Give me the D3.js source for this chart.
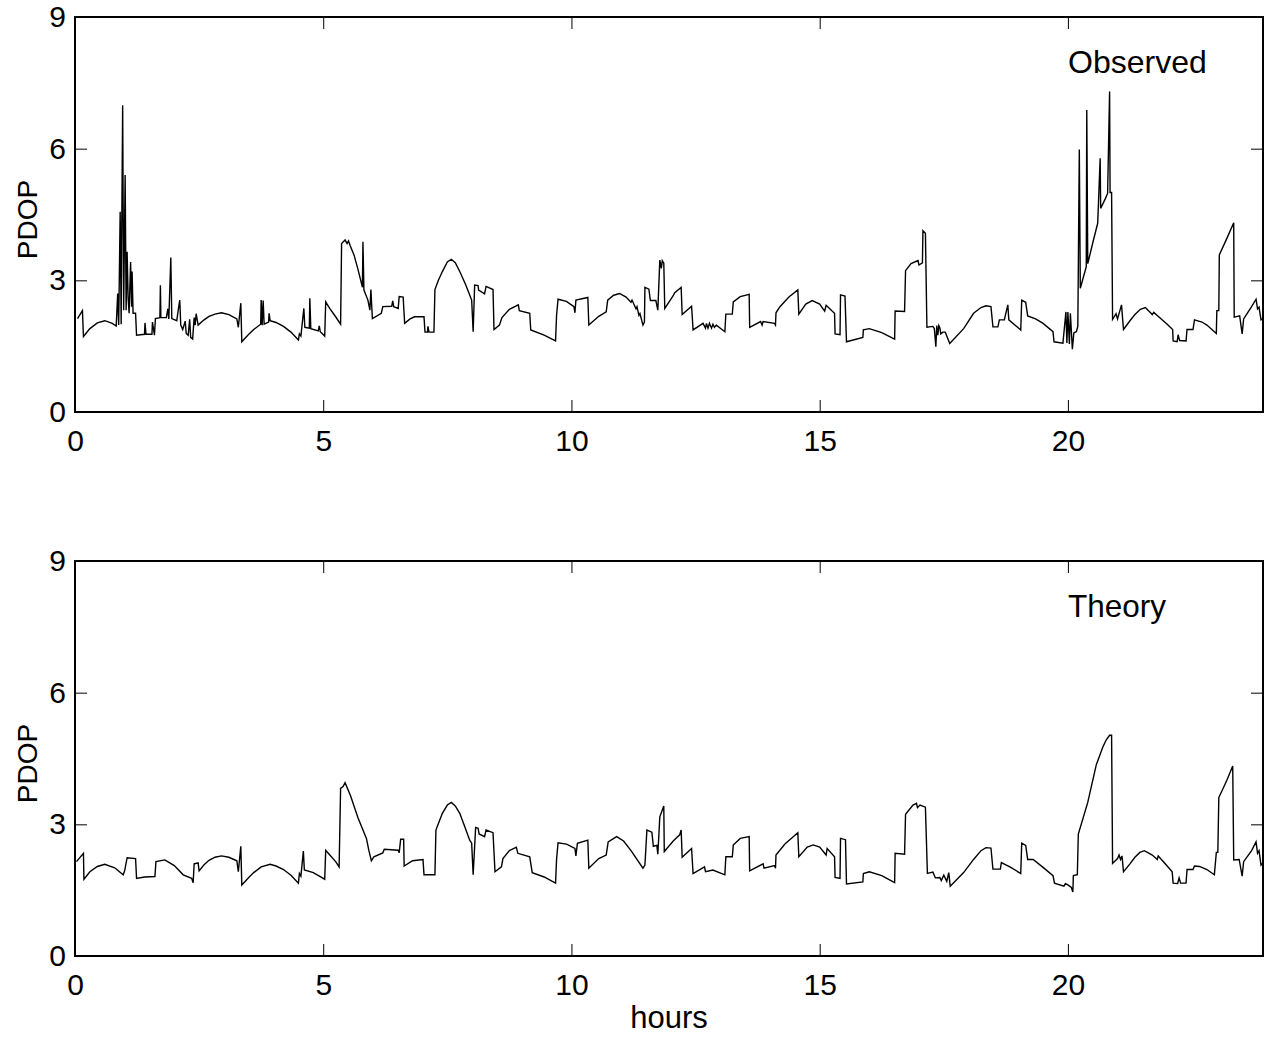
<!DOCTYPE html>
<html><head><meta charset="utf-8">
<script src="https://cdn.jsdelivr.net/npm/d3@7"></script>
<style>body{margin:0;background:#fff}svg{display:block}</style>
</head><body><svg id="c" width="1270" height="1038"></svg>
<script>
// ---- data ----
const xTicks = [0, 5, 10, 15, 20];
const yTicks = [0, 3, 6, 9];
const hoursMax = 23.93;
const pdopMax = 9;
const panelLabels = ["Observed", "Theory"];
const yLabel = "PDOP";
const xLabel = "hours";

// Observed PDOP: [hour, pdop]
const observed = [[0.05,2.13],[0.15,2.31],[0.17,1.72],[0.3,1.90],[0.45,2.03],[0.6,2.08],[0.75,2.02],[0.83,1.96],[0.86,2.70],[0.88,1.98],[0.91,4.56],[0.93,2.00],[0.94,3.92],[0.96,6.99],[0.98,2.32],[1.01,5.40],[1.03,2.32],[1.05,3.65],[1.07,2.6],[1.09,2.25],[1.12,3.42],[1.14,2.4],[1.15,3.2],[1.17,2.25],[1.22,2.25],[1.24,1.75],[1.40,1.77],[1.41,2.03],[1.43,1.77],[1.55,1.77],[1.56,2.05],[1.60,1.75],[1.62,2.13],[1.71,2.15],[1.72,2.89],[1.73,2.15],[1.84,2.15],[1.87,2.35],[1.89,2.12],[1.93,3.52],[1.95,2.13],[2.05,2.08],[2.08,2.33],[2.11,2.55],[2.13,1.98],[2.17,1.88],[2.22,2.07],[2.24,1.79],[2.28,1.75],[2.31,2.11],[2.33,1.70],[2.37,1.66],[2.40,2.15],[2.42,1.98],[2.44,2.24],[2.48,1.98],[2.6,2.10],[2.7,2.18],[2.82,2.23],[2.95,2.26],[3.1,2.22],[3.26,2.12],[3.29,1.93],[3.34,2.48],[3.36,1.60],[3.5,1.77],[3.6,1.88],[3.74,2.0],[3.75,2.55],[3.77,1.98],[3.79,2.54],[3.81,2.0],[3.90,2.05],[3.91,2.25],[3.93,2.08],[4.05,2.04],[4.2,1.95],[4.35,1.82],[4.50,1.64],[4.52,1.78],[4.55,1.73],[4.61,2.36],[4.63,1.93],[4.72,1.91],[4.73,2.59],[4.75,1.90],[4.90,1.85],[4.92,1.96],[4.94,1.83],[5.03,1.73],[5.05,2.51],[5.13,2.36],[5.25,2.17],[5.35,2.0],[5.37,3.84],[5.44,3.92],[5.48,3.84],[5.51,3.90],[5.54,3.80],[5.62,3.58],[5.70,3.25],[5.79,2.84],[5.80,3.88],[5.82,2.78],[5.90,2.55],[5.94,2.32],[5.96,2.79],[5.99,2.13],[6.17,2.25],[6.20,2.40],[6.38,2.41],[6.40,2.53],[6.42,2.40],[6.51,2.36],[6.53,2.63],[6.61,2.62],[6.64,2.02],[6.75,2.12],[6.84,2.17],[7.03,2.17],[7.05,1.82],[7.10,1.82],[7.11,1.95],[7.13,1.82],[7.23,1.82],[7.25,2.79],[7.32,3.0],[7.4,3.2],[7.5,3.42],[7.58,3.48],[7.66,3.40],[7.75,3.2],[7.87,2.9],[7.99,2.55],[8.02,1.83],[8.05,2.89],[8.12,2.88],[8.13,2.78],[8.25,2.69],[8.28,2.86],[8.42,2.79],[8.44,1.88],[8.55,1.98],[8.60,2.15],[8.75,2.34],[8.93,2.44],[8.95,2.31],[9.16,2.25],[9.18,1.87],[9.45,1.75],[9.68,1.62],[9.70,2.20],[9.73,2.57],[9.9,2.52],[10.05,2.40],[10.07,2.26],[10.09,2.55],[10.33,2.61],[10.35,1.98],[10.55,2.18],[10.70,2.28],[10.73,2.55],[10.85,2.66],[10.97,2.70],[11.1,2.62],[11.2,2.50],[11.22,2.55],[11.3,2.35],[11.32,2.40],[11.36,2.2],[11.38,2.24],[11.44,1.98],[11.47,2.05],[11.48,2.84],[11.56,2.80],[11.59,2.54],[11.70,2.54],[11.74,2.32],[11.78,3.46],[11.81,3.27],[11.83,3.45],[11.86,3.39],[11.88,2.36],[12.05,2.65],[12.08,2.72],[12.21,2.84],[12.23,2.22],[12.42,2.41],[12.45,1.87],[12.65,2.02],[12.70,1.91],[12.72,2.02],[12.75,1.91],[12.78,2.02],[12.82,1.91],[12.85,2.00],[12.88,1.93],[12.92,1.98],[13.09,1.83],[13.11,2.23],[13.24,2.23],[13.26,2.51],[13.4,2.63],[13.58,2.68],[13.59,1.93],[13.81,2.06],[13.84,1.98],[13.86,2.06],[14.09,2.02],[14.11,1.98],[14.12,2.26],[14.2,2.40],[14.38,2.62],[14.56,2.78],[14.58,2.23],[14.72,2.46],[14.85,2.54],[15.0,2.46],[15.10,2.30],[15.13,2.43],[15.25,2.30],[15.30,2.25],[15.31,1.78],[15.41,1.76],[15.42,2.67],[15.51,2.64],[15.54,1.60],[15.87,1.70],[15.88,1.87],[16.0,1.90],[16.25,1.81],[16.51,1.66],[16.52,2.30],[16.71,2.29],[16.73,3.22],[16.84,3.38],[16.98,3.45],[17.0,3.35],[17.07,3.40],[17.08,4.13],[17.13,4.07],[17.16,1.93],[17.28,1.95],[17.31,1.90],[17.34,1.49],[17.36,1.97],[17.38,1.75],[17.40,1.97],[17.42,1.92],[17.44,1.78],[17.48,1.82],[17.53,1.82],[17.62,1.56],[17.9,1.90],[18.10,2.25],[18.25,2.38],[18.35,2.42],[18.45,2.40],[18.49,1.94],[18.59,1.94],[18.62,2.10],[18.72,2.10],[18.74,2.2],[18.79,2.44],[18.81,2.1],[19.05,1.87],[19.07,2.55],[19.15,2.50],[19.19,2.19],[19.35,2.12],[19.5,2.02],[19.70,1.83],[19.72,1.60],[19.90,1.57],[19.96,2.28],[19.98,1.57],[20.00,2.28],[20.03,1.55],[20.05,2.25],[20.09,1.43],[20.12,1.80],[20.17,1.83],[20.20,1.95],[20.23,5.98],[20.25,2.82],[20.37,3.31],[20.38,6.88],[20.40,3.38],[20.50,3.85],[20.60,4.30],[20.65,5.78],[20.66,4.64],[20.75,4.85],[20.80,4.98],[20.84,7.30],[20.85,5.0],[20.88,5.0],[20.90,2.11],[20.97,2.24],[21.0,2.12],[21.05,2.32],[21.08,2.44],[21.12,1.88],[21.25,2.08],[21.35,2.22],[21.46,2.34],[21.56,2.38],[21.70,2.22],[21.73,2.27],[21.88,2.12],[22.0,2.0],[22.11,1.88],[22.12,1.62],[22.20,1.60],[22.22,1.76],[22.25,1.63],[22.38,1.62],[22.40,1.88],[22.52,1.88],[22.55,2.10],[22.7,2.05],[22.8,1.98],[22.99,1.79],[23.00,2.31],[23.04,2.31],[23.05,3.58],[23.2,3.95],[23.34,4.31],[23.35,2.16],[23.46,2.19],[23.51,1.78],[23.54,2.12],[23.70,2.40],[23.79,2.57],[23.82,2.35],[23.85,2.39],[23.89,2.10],[23.92,2.12]];

// Theoretical PDOP: [hour, pdop]
const theory = [[0.03,2.15],[0.17,2.34],[0.18,1.75],[0.3,1.92],[0.45,2.04],[0.6,2.09],[0.8,2.01],[0.97,1.85],[1.0,1.94],[1.05,2.24],[1.22,2.22],[1.24,1.77],[1.4,1.80],[1.61,1.81],[1.63,2.15],[1.81,2.19],[2.0,2.06],[2.18,1.85],[2.35,1.77],[2.38,1.67],[2.40,2.10],[2.48,2.12],[2.50,1.94],[2.6,2.08],[2.7,2.18],[2.82,2.25],[2.95,2.28],[3.1,2.25],[3.26,2.17],[3.29,1.92],[3.34,2.50],[3.36,1.62],[3.5,1.79],[3.6,1.90],[3.75,2.03],[3.93,2.09],[4.05,2.05],[4.2,1.97],[4.35,1.84],[4.50,1.66],[4.52,1.88],[4.55,1.82],[4.60,2.39],[4.62,1.96],[4.8,1.90],[5.03,1.75],[5.05,2.41],[5.12,2.32],[5.25,2.15],[5.32,2.03],[5.35,3.82],[5.40,3.86],[5.44,3.95],[5.55,3.65],[5.7,3.15],[5.87,2.68],[5.92,2.40],[5.97,2.17],[6.02,2.26],[6.20,2.35],[6.23,2.43],[6.51,2.41],[6.53,2.35],[6.56,2.66],[6.62,2.66],[6.63,2.05],[6.8,2.17],[7.01,2.20],[7.03,1.85],[7.25,1.85],[7.27,2.87],[7.33,3.05],[7.4,3.25],[7.5,3.44],[7.58,3.50],[7.66,3.42],[7.75,3.25],[7.85,2.95],[7.95,2.64],[7.99,2.57],[8.02,1.85],[8.07,2.93],[8.12,2.91],[8.14,2.78],[8.25,2.72],[8.28,2.87],[8.42,2.81],[8.46,1.92],[8.59,2.03],[8.62,2.22],[8.75,2.40],[8.89,2.48],[8.92,2.34],[9.16,2.26],[9.21,1.90],[9.45,1.80],[9.68,1.66],[9.70,2.20],[9.73,2.58],[9.9,2.55],[10.07,2.45],[10.09,2.28],[10.12,2.57],[10.33,2.64],[10.35,2.0],[10.55,2.22],[10.70,2.30],[10.74,2.6],[10.91,2.72],[11.05,2.62],[11.2,2.40],[11.44,2.0],[11.48,2.07],[11.52,2.87],[11.62,2.82],[11.65,2.5],[11.72,2.52],[11.74,2.32],[11.78,3.17],[11.86,3.42],[11.87,2.38],[12.05,2.62],[12.18,2.76],[12.21,2.87],[12.23,2.25],[12.42,2.45],[12.45,1.88],[12.68,2.03],[12.70,1.92],[12.85,1.96],[13.09,1.85],[13.11,2.26],[13.24,2.26],[13.26,2.53],[13.4,2.68],[13.58,2.72],[13.59,1.94],[13.86,2.10],[13.88,2.00],[14.09,2.06],[14.11,2.00],[14.12,2.30],[14.3,2.55],[14.45,2.70],[14.56,2.81],[14.58,2.26],[14.75,2.48],[14.87,2.53],[15.0,2.48],[15.13,2.30],[15.15,2.45],[15.30,2.26],[15.31,1.79],[15.41,1.77],[15.42,2.68],[15.52,2.65],[15.54,1.64],[15.87,1.69],[15.88,1.88],[16.0,1.92],[16.25,1.83],[16.51,1.67],[16.52,2.34],[16.71,2.32],[16.73,3.23],[16.88,3.44],[16.95,3.48],[16.97,3.38],[17.02,3.44],[17.13,3.39],[17.17,1.88],[17.28,1.91],[17.33,1.78],[17.42,1.79],[17.45,1.72],[17.5,1.84],[17.56,1.70],[17.60,1.90],[17.63,1.59],[17.9,1.90],[18.1,2.20],[18.25,2.40],[18.35,2.47],[18.45,2.46],[18.49,1.98],[18.64,1.98],[18.66,2.13],[18.85,2.02],[19.05,1.88],[19.07,2.57],[19.15,2.52],[19.19,2.20],[19.3,2.20],[19.5,2.02],[19.70,1.83],[19.73,1.66],[19.92,1.59],[19.95,1.65],[20.0,1.62],[20.07,1.56],[20.10,1.46],[20.11,1.83],[20.19,1.85],[20.21,2.78],[20.4,3.50],[20.57,4.35],[20.7,4.75],[20.77,4.92],[20.84,5.03],[20.88,5.03],[20.90,2.11],[21.0,2.22],[21.03,2.30],[21.06,2.20],[21.09,2.28],[21.12,1.92],[21.25,2.10],[21.35,2.25],[21.45,2.36],[21.54,2.40],[21.7,2.30],[21.80,2.20],[21.82,2.28],[22.0,2.05],[22.10,1.92],[22.12,1.66],[22.21,1.65],[22.24,1.78],[22.27,1.66],[22.38,1.66],[22.40,1.97],[22.52,1.97],[22.55,2.05],[22.65,2.04],[22.80,1.97],[22.95,1.85],[22.99,2.36],[23.02,2.36],[23.04,3.61],[23.2,4.0],[23.32,4.33],[23.34,2.19],[23.45,2.20],[23.51,1.82],[23.54,2.15],[23.70,2.40],[23.79,2.60],[23.82,2.34],[23.85,2.40],[23.89,2.07],[23.92,2.11]];

const seriesList = [observed, theory];

// ---- layout ----
const svg = d3.select("#c");
const left = 75, right = 1263, panelH = 395;
const panelTops = [17, 561];
const font = "'Liberation Sans', Arial, Helvetica, sans-serif";
const labelSizes = [32, 31.5];

const x = d3.scaleLinear().domain([0, hoursMax]).range([left, right]);

seriesList.forEach((data, i) => {
  const top = panelTops[i], bottom = top + panelH;
  const y = d3.scaleLinear().domain([0, pdopMax]).range([bottom, top]);
  const g = svg.append("g");

  g.append("clipPath").attr("id", "clip" + i)
    .append("rect").attr("x", left).attr("y", top).attr("width", right - left).attr("height", panelH);

  const line = d3.line().x(d => x(d[0])).y(d => y(d[1]));
  g.append("path").datum(data)
    .attr("clip-path", `url(#clip${i})`)
    .attr("fill", "none").attr("stroke", "#000").attr("stroke-width", 1.4)
    .attr("stroke-linejoin", "miter").attr("d", line);

  const styleAxis = sel => {
    sel.select(".domain").remove();
    sel.selectAll(".tick line").attr("stroke", "#000").attr("stroke-width", 1);
    sel.selectAll("text").attr("font-family", font).attr("font-size", 30).attr("fill", "#000");
  };

  g.append("g").attr("transform", `translate(0,${bottom})`)
    .call(d3.axisBottom(x).tickValues(xTicks).tickFormat(d3.format("d")).tickSize(-12).tickPadding(18))
    .call(styleAxis);
  g.append("g").attr("transform", `translate(0,${top})`)
    .call(d3.axisTop(x).tickValues(xTicks).tickFormat("").tickSize(-12))
    .call(styleAxis);
  g.append("g").attr("transform", `translate(${left},0)`)
    .call(d3.axisLeft(y).tickValues(yTicks).tickFormat(d3.format("d")).tickSize(-12).tickPadding(9))
    .call(styleAxis);
  g.append("g").attr("transform", `translate(${right},0)`)
    .call(d3.axisRight(y).tickValues(yTicks).tickFormat("").tickSize(-12))
    .call(styleAxis);

  g.append("rect").attr("x", left).attr("y", top).attr("width", right - left).attr("height", panelH)
    .attr("fill", "none").attr("stroke", "#000").attr("stroke-width", 2);

  g.append("text").attr("x", 1068).attr("y", top + 56)
    .attr("font-family", font).attr("font-size", labelSizes[i]).text(panelLabels[i]);

  g.append("text").attr("transform", `translate(37,${(top + bottom) / 2 + 5}) rotate(-90)`)
    .attr("text-anchor", "middle").attr("font-family", font).attr("font-size", 28).text(yLabel);
});

svg.append("text").attr("x", (left + right) / 2).attr("y", 1028)
  .attr("text-anchor", "middle").attr("font-family", font).attr("font-size", 31).text(xLabel);
</script></body></html>
